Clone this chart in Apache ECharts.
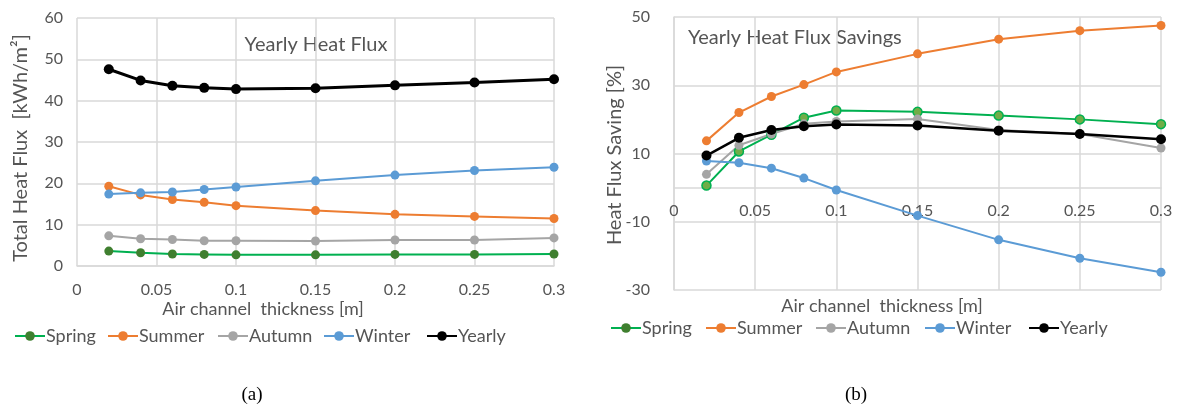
<!DOCTYPE html>
<html>
<head>
<meta charset="utf-8">
<script src="https://cdn.jsdelivr.net/npm/echarts@6/dist/echarts.min.js"></script>
<style>
html,body{margin:0;padding:0;background:#fff;}
#c{width:1177px;height:408px;}
</style>
</head>
<body>
<div id="c"></div>
<script>
var thickness = [0.02, 0.04, 0.06, 0.08, 0.1, 0.15, 0.2, 0.25, 0.3];
var seriesNames = ['Spring', 'Summer', 'Autumn', 'Winter', 'Yearly'];

// (a) Yearly heat flux [kWh/m2]
var fluxSpring = [3.6, 3.2, 2.9, 2.8, 2.7, 2.7, 2.8, 2.8, 2.9];
var fluxSummer = [19.3, 17.2, 16.1, 15.4, 14.6, 13.4, 12.5, 12.0, 11.5];
var fluxAutumn = [7.3, 6.6, 6.4, 6.1, 6.1, 6.05, 6.3, 6.3, 6.8];
var fluxWinter = [17.4, 17.7, 17.9, 18.5, 19.1, 20.6, 22.0, 23.1, 23.9];
var fluxYearly = [47.6, 44.9, 43.6, 43.1, 42.8, 43.0, 43.7, 44.4, 45.2];

// (b) Yearly heat flux savings [%]
var saveSpring = [0.6, 10.6, 15.5, 20.5, 22.6, 22.2, 21.1, 20.0, 18.6];
var saveSummer = [13.7, 22.0, 26.7, 30.2, 33.9, 39.2, 43.5, 46.0, 47.5];
var saveAutumn = [3.9, 12.4, 15.7, 18.7, 19.4, 20.1, 16.9, 15.7, 11.6];
var saveWinter = [7.8, 7.3, 5.7, 2.8, -0.7, -8.2, -15.3, -20.7, -24.8];
var saveYearly = [9.4, 14.6, 16.9, 18.0, 18.5, 18.2, 16.7, 15.7, 14.2];

function pairs(vals) { return thickness.map(function (t, i) { return [t, vals[i]]; }); }

var FONT = 'Lato';
var TXT = '#555555';
var GRID = '#d9d9d9';

var colors = {
  Spring: '#00b050', Summer: '#ed7d31', Autumn: '#a5a5a5', Winter: '#5b9bd5', Yearly: '#000000'
};

function mk(name, vals, xi, opts) {
  opts = opts || {};
  return {
    name: name, type: 'line', xAxisIndex: xi, yAxisIndex: xi,
    data: pairs(vals), symbol: 'circle', symbolSize: opts.size || 9,
    showSymbol: true, animation: false,
    lineStyle: { color: colors[name], width: opts.width || 2 },
    itemStyle: { color: opts.fill || colors[name], borderColor: opts.border || colors[name], borderWidth: opts.bw || 0 },
    z: opts.z || 2
  };
}

var series = [
  mk('Spring', fluxSpring, 0, { fill: '#3f7f2f', border: '#3f7f2f' }),
  mk('Summer', fluxSummer, 0),
  mk('Autumn', fluxAutumn, 0),
  mk('Winter', fluxWinter, 0),
  mk('Yearly', fluxYearly, 0, { width: 3, size: 10 }),
  mk('Spring', saveSpring, 1, { fill: '#70ad47', border: '#00b050', bw: 1.5 }),
  mk('Summer', saveSummer, 1),
  mk('Autumn', saveAutumn, 1),
  mk('Winter', saveWinter, 1),
  mk('Yearly', saveYearly, 1, { width: 2.5, size: 10 })
];

function xAxisDef(gi, offset, margin) {
  return {
    type: 'value', gridIndex: gi, min: 0, max: 0.3, interval: 0.05,
    position: 'bottom', offset: offset,
    axisLine: { show: true, onZero: false, lineStyle: { color: GRID, width: 1.5 } },
    axisTick: { show: false },
    splitLine: { show: true, lineStyle: { color: GRID, width: 1.5 } },
    axisLabel: { color: TXT, fontFamily: FONT, fontSize: 16, margin: margin,
      formatter: function (v) { return String(Math.round(v * 100) / 100); } }
  };
}

var legends = [];
var legA = [14, 107, 217, 323, 426];
var legB = [610, 705, 815, 924, 1028];
seriesNames.forEach(function (n, i) {
  legends.push({ data: [n], left: legA[i], top: 327, padding: 0, itemWidth: 30, itemHeight: 12, itemGap: 0,
    textStyle: { color: TXT, fontFamily: FONT, fontSize: 18, padding: [0, 0, 0, -4] }, selectedMode: false });
  legends.push({ data: [n], left: legB[i], top: 319, padding: 0, itemWidth: 30, itemHeight: 12, itemGap: 0,
    textStyle: { color: TXT, fontFamily: FONT, fontSize: 18, padding: [0, 0, 0, -4] }, selectedMode: false });
});

var option = {
  backgroundColor: '#ffffff',
  animation: false,
  grid: [
    { left: 77, top: 18, width: 477, height: 248, containLabel: false },
    { left: 674, top: 17, width: 487, height: 273, containLabel: false }
  ],
  xAxis: [xAxisDef(0, 0, 16), xAxisDef(1, -102, 15)],
  yAxis: [
    {
      type: 'value', gridIndex: 0, min: 0, max: 60, interval: 10,
      axisLine: { show: false }, axisTick: { show: false },
      splitLine: { show: true, lineStyle: { color: GRID, width: 1.5 } },
      axisLabel: { color: TXT, fontFamily: FONT, fontSize: 16, margin: 14 }
    },
    {
      type: 'value', gridIndex: 1, min: -30, max: 50, interval: 20,
      axisLine: { show: true, onZero: false, lineStyle: { color: GRID, width: 1.5 } }, axisTick: { show: false },
      splitLine: { show: true, lineStyle: { color: GRID, width: 1.5 } },
      axisLabel: { color: TXT, fontFamily: FONT, fontSize: 16, margin: 24 }
    }
  ],
  legend: legends,
  series: series,
  graphic: [
    { type: 'text', x: 316, y: 45, style: { text: 'Yearly Heat Flux', fill: TXT, font: '20px ' + FONT, align: 'center', verticalAlign: 'middle' } },
    { type: 'text', x: 688, y: 38, style: { text: 'Yearly Heat Flux Savings', fill: TXT, font: '20px ' + FONT, align: 'left', verticalAlign: 'middle' } },
    { type: 'text', x: 263, y: 309, style: { text: 'Air channel  thickness [m]', fill: TXT, font: '18px ' + FONT, align: 'center', verticalAlign: 'middle' } },
    { type: 'text', x: 882, y: 306, style: { text: 'Air channel  thickness [m]', fill: TXT, font: '18px ' + FONT, align: 'center', verticalAlign: 'middle' } },
    { type: 'text', x: 21, y: 148, rotation: Math.PI / 2, style: { text: 'Total Heat Flux  [kWh/m²]', fill: TXT, font: '20px ' + FONT, align: 'center', verticalAlign: 'middle' } },
    { type: 'text', x: 615, y: 155, rotation: Math.PI / 2, style: { text: 'Heat Flux Saving [%]', fill: TXT, font: '20px ' + FONT, align: 'center', verticalAlign: 'middle' } },
    { type: 'text', x: 252, y: 395, style: { text: '(a)', fill: '#000', font: '19px "Liberation Serif"', align: 'center', verticalAlign: 'middle' } },
    { type: 'text', x: 856, y: 395, style: { text: '(b)', fill: '#000', font: '19px "Liberation Serif"', align: 'center', verticalAlign: 'middle' } }
  ]
};

var chart = echarts.init(document.getElementById('c'), null, { renderer: 'canvas' });
chart.setOption(option);
</script>
</body>
</html>
